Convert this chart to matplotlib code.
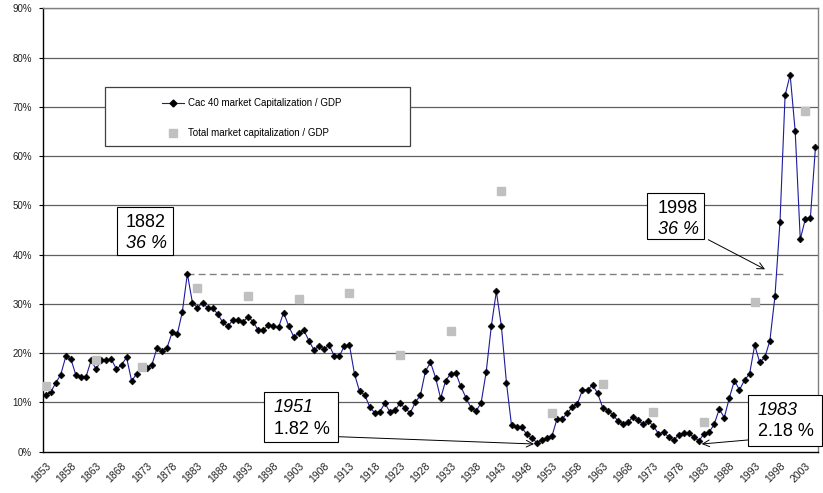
import matplotlib
matplotlib.use("Agg")
import matplotlib.pyplot as plt
from matplotlib.patches import Rectangle
from matplotlib.lines import Line2D

plt.rcParams['font.family'] = ['Liberation Sans', 'DejaVu Sans']

# ---------------- data ----------------
start_year = 1853
cac_values = [
    11.5, 12.0, 13.9, 15.6, 19.3, 18.8, 15.5, 15.2, 15.2, 18.5,
    16.7, 18.6, 18.6, 18.7, 16.7, 17.6, 19.1, 14.3, 15.8, 17.2,
    17.0, 17.6, 21.0, 20.4, 21.1, 24.2, 23.8, 28.3, 36.1, 30.2,
    29.2, 30.2, 29.2, 29.1, 27.9, 26.2, 25.4, 26.7, 26.7, 26.3,
    27.4, 26.3, 24.6, 24.7, 25.6, 25.4, 25.2, 28.2, 25.5, 23.3,
    24.0, 24.6, 22.5, 20.6, 21.4, 20.8, 21.6, 19.4, 19.3, 21.5,
    21.6, 15.7, 12.2, 11.5, 9.1, 7.8, 8.1, 9.8, 8.0, 8.4,
    9.8, 8.8, 7.8, 10.0, 11.4, 16.3, 18.1, 15.0, 10.8, 14.4,
    15.8, 15.9, 13.2, 10.9, 8.9, 8.2, 9.9, 16.2, 25.4, 32.5,
    25.4, 13.9, 5.3, 4.9, 4.9, 3.5, 2.7, 1.82, 2.3, 2.8,
    3.2, 6.7, 6.6, 7.8, 9.0, 9.7, 12.5, 12.5, 13.5, 11.8,
    8.9, 8.3, 7.5, 6.2, 5.6, 5.9, 7.1, 6.3, 5.5, 6.1,
    5.2, 3.6, 3.9, 3.0, 2.3, 3.4, 3.7, 3.7, 2.9, 2.18,
    3.6, 3.9, 5.5, 8.6, 6.9, 10.9, 14.4, 12.5, 14.5, 15.8,
    21.6, 18.1, 19.1, 22.5, 31.5, 46.7, 72.3, 76.5, 65.0, 43.1,
    47.2, 47.5, 61.8,
]
years = list(range(start_year, start_year + len(cac_values)))

total_years = [1853, 1863, 1872, 1883, 1893, 1903, 1913, 1923, 1933, 1943,
               1953, 1963, 1973, 1983, 1993, 2003]
total_values = [13.2, 18.5, 17.2, 33.2, 31.5, 30.9, 32.1, 19.6, 24.5, 52.9,
                7.8, 13.8, 8.0, 5.9, 30.3, 69.2]

tick_years = list(range(1853, 2004, 5))
y_ticks = list(range(0, 91, 10))

series1_label = "Cac 40 market Capitalization / GDP"
series2_label = "Total market capitalization / GDP"

# ---------------- figure ----------------
W, H = 823, 493
fig = plt.figure(figsize=(W / 100, H / 100), dpi=100)

def fx(px):
    return px / W

def fy(py):
    return 1 - py / H

ax = fig.add_axes([fx(43), fy(451.5), fx(818) - fx(43), fy(8.3) - fy(451.5)])

xpos = [y - start_year for y in years]
tpos = [y - start_year for y in total_years]

ax.plot(xpos, cac_values, color='#1c1c9c', lw=0.8, marker='D', ms=3.5,
        mfc='black', mec='black', mew=0.4, zorder=3)
ax.plot(tpos, total_values, ls='none', marker='s', ms=5.3, mfc='#c0c0c0',
        mec='#c0c0c0', zorder=4)

# dashed reference line from 1882 peak
peak_val = max(cac_values[:100])
peak_idx = cac_values.index(peak_val)
ax.plot([peak_idx, 145.5], [peak_val, peak_val], ls=(0, (5, 3)),
        color='#808080', lw=1.0, zorder=2)

ax.set_xlim(-0.5, len(cac_values) - 0.5)
ax.set_ylim(0, 90)
ax.set_yticks(y_ticks)
ax.set_yticklabels([f"{v}%" for v in y_ticks], fontsize=7, color='#222222')
ax.set_xticks([y - start_year for y in tick_years])
ax.set_xticklabels([str(y) for y in tick_years], rotation=45, ha='right',
                   rotation_mode='anchor', fontsize=7.5, color='#222222')
ax.tick_params(axis='x', length=0, pad=7)
ax.tick_params(axis='y', length=3, width=0.8, pad=5, direction='out')

for v in y_ticks[1:]:
    ax.axhline(v, color='#606060', lw=0.9, zorder=1)

for s in ['left', 'bottom']:
    ax.spines[s].set_color('black')
    ax.spines[s].set_linewidth(1.0)
for s in ['top', 'right']:
    ax.spines[s].set_color('#808080')
    ax.spines[s].set_linewidth(1.0)

# ---------------- legend (manual) ----------------
fig.patches.append(Rectangle((fx(105.3), fy(146)), fx(410) - fx(105.3), fy(86.7) - fy(146),
                             transform=fig.transFigure, fc='white', ec='#404040', lw=0.9,
                             zorder=5))
fig.lines.append(Line2D([fx(162), fx(184)], [fy(102.7), fy(102.7)], transform=fig.transFigure,
                        color='#1c1c9c', lw=0.8, zorder=6))
fig.lines.append(Line2D([fx(173)], [fy(102.7)], transform=fig.transFigure, marker='D', ms=3.5,
                        mfc='black', mec='black', ls='none', zorder=6))
fig.lines.append(Line2D([fx(173)], [fy(132.7)], transform=fig.transFigure, marker='s', ms=5.3,
                        mfc='#c0c0c0', mec='#c0c0c0', ls='none', zorder=6))
fig.text(fx(187.7), fy(102.7), series1_label, fontsize=7, va='center', ha='left', zorder=7)
fig.text(fx(187.7), fy(132.7), series2_label, fontsize=7, va='center', ha='left', zorder=7)

# ---------------- annotation boxes ----------------
def box(x0, y0, x1, y1, line1, line2, it1, it2, tx, ty1, ty2):
    fig.patches.append(Rectangle((fx(x0), fy(y1)), fx(x1) - fx(x0), fy(y0) - fy(y1),
                                 transform=fig.transFigure, fc='white', ec='black',
                                 lw=0.8, zorder=5))
    fig.text(fx(tx), fy(ty1), line1, fontsize=13, va='center', ha='left',
             style='italic' if it1 else 'normal', zorder=7)
    fig.text(fx(tx), fy(ty2), line2, fontsize=13, va='center', ha='left',
             style='italic' if it2 else 'normal', zorder=7)

box(116.7, 207.3, 172.7, 255, "1882", "36 %", False, True, 126, 222.5, 243)
box(647.3, 192.7, 704.3, 239, "1998", "36 %", False, True, 657.7, 208.3, 229)
box(264.3, 392.3, 338.3, 442.3, "1951", "1.82 %", True, False, 273.5, 407, 429)
box(747.7, 395, 822.3, 446, "1983", "2.18 %", True, False, 757.5, 410.3, 432)

arrow = dict(arrowstyle='->', lw=0.7, color='black', shrinkA=0, shrinkB=0,
             mutation_scale=12)
ax.annotate('', xy=(fx(765), fy(269.3)), xycoords='figure fraction',
            xytext=(fx(708.3), fy(239.7)), textcoords='figure fraction',
            arrowprops=arrow, annotation_clip=False)
ax.annotate('', xy=(fx(534), fy(444)), xycoords='figure fraction',
            xytext=(fx(338.3), fy(436.7)), textcoords='figure fraction',
            arrowprops=arrow, annotation_clip=False)
ax.annotate('', xy=(fx(701.7), fy(444)), xycoords='figure fraction',
            xytext=(fx(747.7), fy(440)), textcoords='figure fraction',
            arrowprops=arrow, annotation_clip=False)

fig.savefig('out.png', dpi=100)
